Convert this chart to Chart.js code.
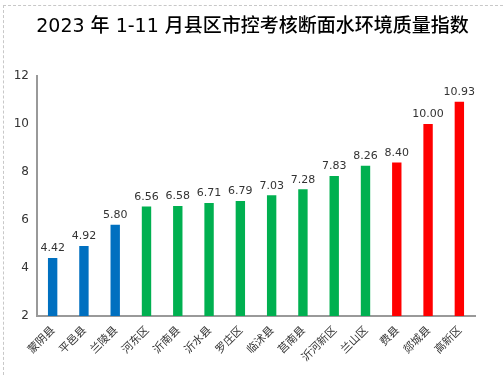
<!DOCTYPE html>
<html>
<head>
<meta charset="utf-8">
<script src="https://cdn.jsdelivr.net/npm/chart.js@4.4.0/dist/chart.umd.min.js"></script>
<style>
html,body{margin:0;padding:0;background:#fff;}
#wrap{position:relative;width:503px;height:375px;}
#frame{position:absolute;left:3px;top:5px;right:0;bottom:0;border-left:1px dashed #c8c8c8;border-top:1px dashed #c8c8c8;}
canvas{position:absolute;left:0;top:0;}
</style>
</head>
<body>
<div id="wrap"><div id="frame"></div><canvas id="c" width="503" height="375"></canvas></div>
<script>
const categories = ["蒙阴县","平邑县","兰陵县","河东区","沂南县","沂水县","罗庄区","临沭县","莒南县","沂河新区","兰山区","费县","郯城县","高新区"];
const values = [4.42,4.92,5.80,6.56,6.58,6.71,6.79,7.03,7.28,7.83,8.26,8.40,10.00,10.93];
const groupOf = ["blue","blue","blue","green","green","green","green","green","green","green","green","red","red","red"];
const palette = {blue:"#0070C0", green:"#00B050", red:"#FF0000"};
const yTicks = [2,4,6,8,10,12];
const titleText = "2023 年 1-11 月县区市控考核断面水环境质量指数";

const FONT = "'Noto Sans CJK SC','DejaVu Sans',sans-serif";

const labelPlugin = {
  id: 'valueLabels',
  afterDatasetsDraw(chart) {
    const ctx = chart.ctx;
    const meta = chart.getDatasetMeta(0);
    ctx.save();
    ctx.font = "11px 'DejaVu Sans', sans-serif";
    ctx.fillStyle = "#333";
    ctx.textAlign = "center";
    ctx.textBaseline = "bottom";
    meta.data.forEach((bar, i) => {
      ctx.fillText(values[i].toFixed(2), bar.x, bar.y - 4);
    });
    // centred title across the full canvas width
    ctx.font = "500 19px 'DejaVu Sans','Noto Sans CJK SC',sans-serif";
    ctx.fillStyle = "#000";
    ctx.textBaseline = "middle";
    ctx.fillText(titleText, chart.width / 2 + 1, 27);
    ctx.restore();
  }
};

new Chart(document.getElementById('c'), {
  type: 'bar',
  data: {
    labels: categories,
    datasets: [{
      data: values,
      backgroundColor: groupOf.map(g => palette[g]),
      borderWidth: 0,
      barPercentage: 0.3,
      categoryPercentage: 1.0
    }]
  },
  options: {
    responsive: false,
    animation: false,
    devicePixelRatio: 1,
    layout: { padding: { left: 0, right: 28, top: 76, bottom: 0 } },
    plugins: {
      legend: { display: false },
      tooltip: { enabled: false },
      title: { display: false }
    },
    scales: {
      x: {
        grid: { display: false, drawTicks: false },
        border: { color: "#999", width: 2 },
        ticks: {
          color: "#333",
          font: { family: FONT, size: 11 },
          maxRotation: 45, minRotation: 45,
          padding: 7,
          autoSkip: false
        },
        afterFit(scale) { scale.height = 59; }
      },
      y: {
        min: 2, max: 12,
        grid: { display: false, drawTicks: false },
        border: { color: "#999", width: 2 },
        afterBuildTicks(scale) { scale.ticks = yTicks.map(v => ({ value: v })); },
        ticks: {
          color: "#333",
          font: { family: "'DejaVu Sans', sans-serif", size: 12 },
          padding: 8
        },
        afterFit(scale) { scale.width = 37; }
      }
    }
  },
  plugins: [labelPlugin]
});
</script>
</body>
</html>
